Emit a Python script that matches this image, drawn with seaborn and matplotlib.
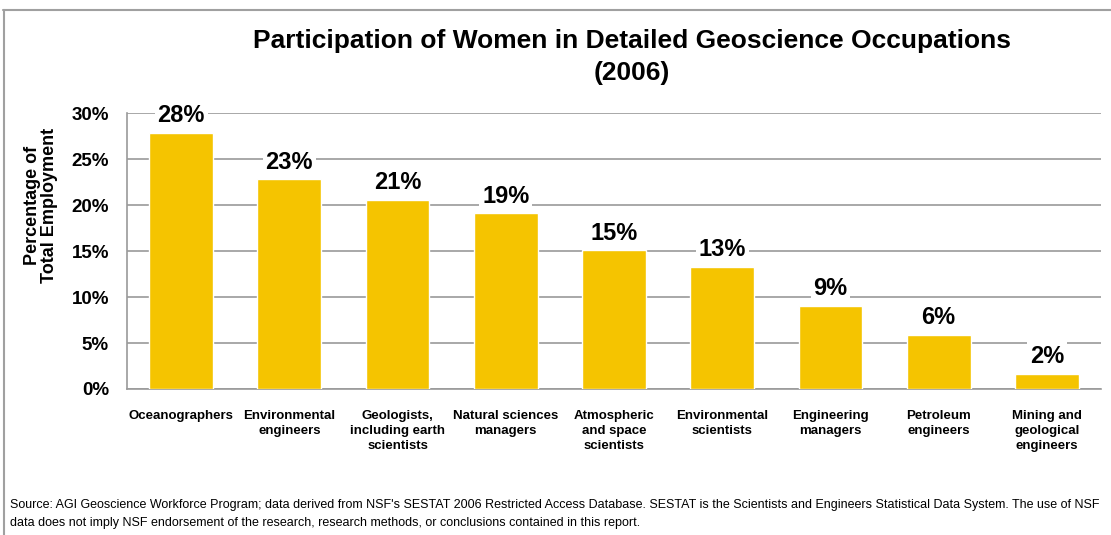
import matplotlib
matplotlib.use("Agg")
import matplotlib.pyplot as plt
from matplotlib.lines import Line2D
from matplotlib.ticker import FuncFormatter, FixedLocator
import seaborn as sns
import pandas as pd

# data
occupations = [
    "Oceanographers",
    "Environmental\nengineers",
    "Geologists,\nincluding earth\nscientists",
    "Natural sciences\nmanagers",
    "Atmospheric\nand space\nscientists",
    "Environmental\nscientists",
    "Engineering\nmanagers",
    "Petroleum\nengineers",
    "Mining and\ngeological\nengineers",
]
share_pct = [27.9, 22.8, 20.6, 19.1, 15.1, 13.3, 9.05, 5.9, 1.65]
value_labels = ["28%", "23%", "21%", "19%", "15%", "13%", "9%", "6%", "2%"]
y_ticks = [0, 5, 10, 15, 20, 25, 30]

title = "Participation of Women in Detailed Geoscience Occupations\n(2006)"
ylabel = "Percentage of\nTotal Employment"
source = ("Source: AGI Geoscience Workforce Program; data derived from NSF's SESTAT 2006 Restricted Access Database. "
          "SESTAT is the Scientists and Engineers Statistical Data System. The use of NSF\n"
          "data does not imply NSF endorsement of the research, research methods, or conclusions contained in this report.")

BAR = "#F5C400"
GRID = "#9a9a9a"

sns.set_style("white")
plt.rcParams["font.family"] = ["Liberation Sans", "DejaVu Sans"]
plt.rcParams["text.color"] = "black"
plt.rcParams["axes.labelcolor"] = "black"

df = pd.DataFrame({"occupation": occupations, "share": share_pct})

fig = plt.figure(figsize=(11.11, 5.35), dpi=100)
ax = fig.add_axes([0.1143, 0.2729, 0.8767, 0.5153])

sns.barplot(data=df, x="occupation", y="share", color=BAR, width=0.59,
            saturation=1, ax=ax, zorder=3)

ax.set_ylim(0, 30)
ax.set_xlim(-0.5, len(occupations) - 0.5)
ax.yaxis.set_major_locator(FixedLocator(y_ticks))
ax.yaxis.set_major_formatter(FuncFormatter(lambda v, _: f"{v:.0f}%"))
ax.yaxis.grid(True, color=GRID, linewidth=1.2, zorder=0)
ax.set_axisbelow(True)

for side in ["top", "right"]:
    ax.spines[side].set_visible(False)
for side in ["left", "bottom"]:
    ax.spines[side].set_color(GRID)
    ax.spines[side].set_linewidth(1.2)

# category ticks sit between the bars
ax.set_xticks([i - 0.5 for i in range(len(occupations) + 1)], minor=True)
ax.tick_params(axis="x", which="minor", length=4, color=GRID, width=1.2, direction="out")
ax.tick_params(axis="x", which="major", length=0, pad=15, labelcolor="black")
ax.tick_params(axis="y", length=5, color=GRID, width=1.2, direction="out", pad=8,
               labelcolor="black")

for lbl in ax.get_xticklabels():
    lbl.set_fontsize(9.5)
    lbl.set_fontweight("bold")
    lbl.set_va("top")
    lbl.set_linespacing(1.35)
for lbl in ax.get_yticklabels():
    lbl.set_fontsize(13.5)
    lbl.set_fontweight("bold")

ax.set_xlabel("")
ax.set_ylabel(ylabel, fontsize=13, fontweight="bold", linespacing=1.0)
ax.yaxis.set_label_coords(-0.071, 0.667)

for i, (v, txt) in enumerate(zip(share_pct, value_labels)):
    ax.text(i, v + 0.6, txt, ha="center", va="bottom", fontsize=17, fontweight="bold",
            zorder=5, bbox=dict(facecolor="white", edgecolor="none", pad=2))

fig.text(0.569, 0.945, title, ha="center", va="top", fontsize=19, fontweight="bold",
         linespacing=1.42)

fig.text(0.009, 0.068, source, ha="left", va="top", fontsize=9, linespacing=1.7)

# outer frame (top and left edges visible in the reference)
fig.add_artist(Line2D([0.003, 1.0], [0.981, 0.981], color="#a0a0a0", linewidth=1.5))
fig.add_artist(Line2D([0.0036, 0.0036], [0.0, 0.981], color="#a0a0a0", linewidth=1.5))

fig.savefig("out.png", dpi=100)
